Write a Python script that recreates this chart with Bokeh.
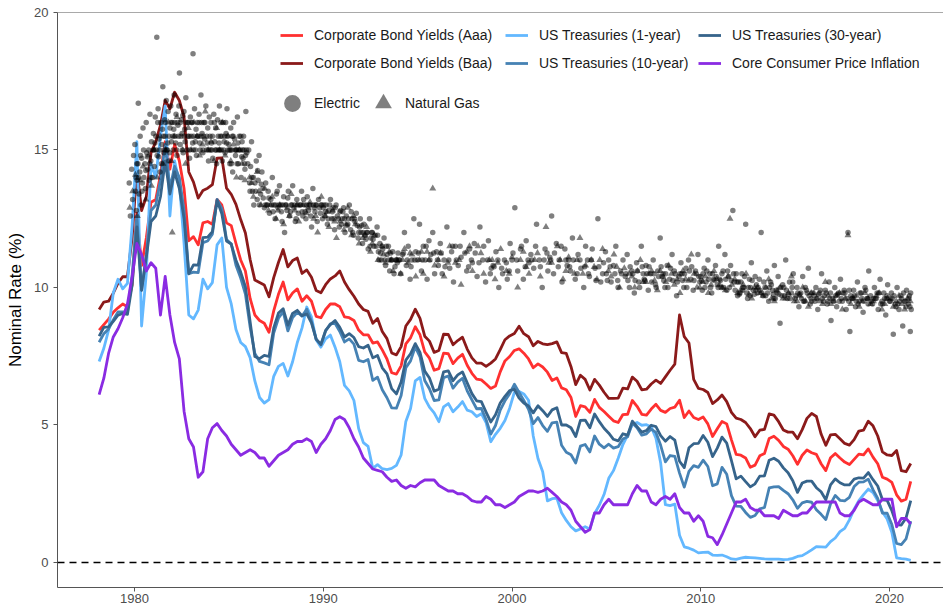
from bokeh.plotting import figure
from bokeh.models import Range1d, Span, Legend, LegendItem, FixedTicker, ColumnDataSource
from bokeh.embed import file_html
from bokeh.resources import INLINE

# ---------------- data (quarterly, 1978Q1 .. 2021Q1) ----------------
aaa = [8.45, 8.65, 8.85, 9.10,  9.26, 9.40, 9.30, 10.10,  12.70, 10.80, 11.80, 13.10,
       13.20, 14.10, 15.30, 14.30,  15.20, 14.60, 13.60, 11.70,  11.85, 11.55, 12.35, 12.40,
       12.30, 13.20, 13.00, 12.35,  12.25, 11.60, 11.00, 10.60,  9.60, 9.00, 8.80, 8.70,
       8.37, 9.15, 9.75, 10.20,  9.55, 9.80, 9.95, 9.50,  9.70, 9.50, 8.95, 8.90,
       9.20, 9.40, 9.40, 9.30,  8.93, 8.90, 8.80, 8.45,  8.28, 8.28, 7.98, 8.02,
       7.73, 7.40, 6.90, 6.85,  7.15, 7.95, 8.17, 8.57,  8.28, 7.66, 7.43, 6.99,
       7.05, 7.61, 7.59, 7.23,  7.43, 7.57, 7.17, 6.88,  6.67, 6.64, 6.49, 6.33,
       6.42, 6.93, 7.33, 7.49,  7.71, 7.77, 7.61, 7.40,  7.08, 7.22, 7.11, 6.92,
       6.62, 6.71, 6.35, 6.28,  6.00, 5.31, 5.70, 5.66,  5.46, 5.93, 5.64, 5.49,
       5.32, 5.15, 5.09, 5.38,  5.39, 5.89, 5.68, 5.39,  5.36, 5.58, 5.75, 5.53,
       5.46, 5.60, 5.65, 5.90,  5.27, 5.51, 5.27, 5.20,  5.29, 5.04, 4.58, 4.86,
       5.13, 5.04, 4.46, 3.93,  3.90, 3.80, 3.46, 3.54,  3.88, 3.96, 4.51, 4.59,
       4.44, 4.22, 4.12, 3.88,  3.57, 3.90, 4.09, 3.99,  3.93, 3.59, 3.34, 3.81,
       3.96, 3.80, 3.65, 3.56,  3.75, 3.94, 3.91, 4.13,  3.83, 3.59, 3.10, 3.03,
       2.91, 2.46, 2.23, 2.30,  2.95]

baa = [9.20, 9.47, 9.50, 9.79,  10.16, 10.39, 10.39, 11.82,  14.30, 12.80, 13.30, 14.90,
       15.30, 15.90, 16.80, 16.50,  17.10, 16.80, 16.20, 14.20,  13.83, 13.25, 13.53, 13.61,
       13.74, 14.70, 14.71, 13.61,  13.39, 13.02, 12.47, 11.98,  11.02, 10.27, 10.18, 10.09,
       9.66, 10.36, 10.91, 11.38,  10.75, 10.98, 11.07, 10.51,  10.64, 10.37, 9.89, 9.81,
       10.10, 10.31, 10.42, 10.60,  10.20, 9.92, 9.68, 9.40,  9.20, 9.13, 8.70, 8.87,
       8.40, 8.14, 7.62, 7.55,  7.85, 8.60, 8.84, 9.21,  8.88, 8.23, 8.05, 7.64,
       7.71, 8.30, 8.29, 7.92,  8.07, 8.19, 7.76, 7.44,  7.25, 7.25, 7.13, 7.25,
       7.40, 7.74, 8.10, 8.24,  8.33, 8.59, 8.32, 8.21,  7.88, 8.04, 7.95, 7.92,
       7.96, 8.02, 7.63, 7.60,  7.12, 6.47, 6.81, 6.66,  6.27, 6.66, 6.45, 6.19,
       5.97, 5.97, 5.98, 6.34,  6.31, 6.74, 6.59, 6.28,  6.30, 6.49, 6.63, 6.51,
       6.75, 6.99, 7.21, 9.00,  8.21, 7.98, 6.66, 6.33,  6.29, 6.18, 5.78, 5.91,
       6.09, 5.85, 5.46, 5.25,  5.20, 5.09, 4.87, 4.57,  4.81, 4.84, 5.40, 5.36,
       5.12, 4.82, 4.74, 4.74,  4.50, 4.83, 5.24, 5.42,  5.31, 4.67, 4.26, 4.64,
       4.66, 4.50, 4.33, 4.27,  4.47, 4.78, 4.81, 5.14,  4.97, 4.60, 4.02, 3.91,
       3.89, 4.07, 3.34, 3.30,  3.60]

ust1 = [7.31, 7.79, 8.45, 9.80,  10.30, 9.95, 10.15, 12.27,  15.30, 8.60, 10.50, 14.50,
        14.00, 15.50, 16.60, 12.60,  14.60, 13.80, 11.60, 9.00,  8.86, 9.18, 10.30, 9.95,
        10.18, 11.55, 11.80, 10.00,  9.40, 8.47, 8.00, 7.85,  7.45, 6.60, 6.00, 5.80,
        5.92, 6.77, 7.13, 7.24,  6.78, 7.30, 8.00, 8.53,  9.29, 8.93, 8.10, 7.83,
        8.13, 8.27, 7.83, 7.30,  6.44, 6.24, 5.89, 4.87,  4.36, 4.22, 3.42, 3.56,
        3.41, 3.38, 3.42, 3.53,  3.91, 5.13, 5.60, 6.60,  6.73, 5.97, 5.65, 5.44,
        5.12, 5.66, 5.78, 5.48,  5.65, 5.85, 5.54, 5.48,  5.31, 5.41, 5.09, 4.39,
        4.66, 4.88, 5.16, 5.61,  6.19, 6.22, 6.13, 5.90,  4.60, 3.78, 3.30, 2.24,
        2.32, 2.34, 1.81, 1.53,  1.30, 1.15, 1.22, 1.30,  1.22, 1.78, 2.08, 2.47,
        3.06, 3.34, 3.79, 4.29,  4.63, 5.02, 5.09, 4.99,  5.01, 4.93, 4.52, 3.62,
        2.10, 2.07, 2.12, 0.99,  0.57, 0.52, 0.45, 0.35,  0.37, 0.38, 0.27, 0.26,
        0.27, 0.21, 0.13, 0.11,  0.16, 0.19, 0.18, 0.17,  0.15, 0.13, 0.12, 0.12,
        0.12, 0.10, 0.11, 0.15,  0.22, 0.25, 0.35, 0.46,  0.58, 0.57, 0.56, 0.76,
        0.89, 1.12, 1.24, 1.55,  1.94, 2.25, 2.47, 2.67,  2.54, 2.25, 1.84, 1.58,
        1.09, 0.17, 0.14, 0.12,  0.08]

ust10 = [8.01, 8.32, 8.49, 8.82,  9.11, 9.11, 9.10, 10.45,  12.60, 9.90, 11.20, 12.80,
         13.00, 13.90, 15.20, 13.60,  14.40, 14.00, 12.80, 10.50,  10.56, 10.54, 11.63, 11.69,
         11.94, 13.20, 12.87, 11.74,  11.58, 10.81, 10.34, 9.76,  8.56, 7.60, 7.31, 7.26,
         7.19, 8.34, 8.88, 9.12,  8.42, 8.91, 9.10, 8.96,  9.21, 8.77, 8.11, 7.91,
         8.42, 8.68, 8.70, 8.40,  8.02, 8.13, 7.94, 7.35,  7.30, 7.38, 6.62, 6.74,
         6.28, 5.99, 5.62, 5.61,  6.07, 7.08, 7.33, 7.84,  7.48, 6.62, 6.32, 5.89,
         5.91, 6.72, 6.78, 6.34,  6.56, 6.70, 6.24, 5.91,  5.59, 5.60, 5.20, 4.67,
         4.98, 5.54, 5.88, 6.14,  6.48, 6.18, 5.89, 5.57,  5.05, 5.27, 4.98, 4.77,
         5.08, 5.10, 4.26, 4.01,  3.92, 3.62, 4.23, 4.29,  4.02, 4.60, 4.30, 4.17,
         4.30, 4.16, 4.21, 4.49,  4.57, 5.07, 4.90, 4.63,  4.68, 4.85, 4.73, 4.26,
         3.66, 3.89, 3.86, 3.25,  2.74, 3.31, 3.52, 3.46,  3.72, 3.49, 2.79, 2.86,
         3.46, 3.21, 2.43, 2.05,  2.04, 1.82, 1.64, 1.71,  1.95, 2.00, 2.71, 2.75,
         2.76, 2.62, 2.50, 2.28,  1.97, 2.17, 2.22, 2.19,  1.92, 1.75, 1.56, 2.13,
         2.44, 2.26, 2.24, 2.37,  2.76, 2.92, 2.93, 3.03,  2.65, 2.33, 1.80, 1.79,
         1.38, 0.69, 0.65, 0.86,  1.50]

ust30 = [8.23, 8.55, 8.57, 8.77,  8.99, 9.06, 9.02, 10.09,  12.20, 9.90, 11.10, 12.40,
         12.60, 13.30, 14.60, 13.40,  14.20, 13.60, 12.50, 10.50,  10.82, 10.81, 11.81, 11.83,
         12.03, 13.17, 12.68, 11.69,  11.58, 10.99, 10.56, 10.03,  8.76, 7.49, 7.41, 7.53,
         7.49, 8.53, 9.07, 9.23,  8.63, 9.06, 9.17, 8.97,  9.04, 8.71, 8.12, 7.93,
         8.44, 8.65, 8.80, 8.55,  8.20, 8.32, 8.18, 7.85,  7.80, 7.90, 7.44, 7.53,
         7.08, 6.86, 6.32, 6.13,  6.56, 7.36, 7.59, 7.96,  7.64, 6.96, 6.71, 6.23,
         6.30, 6.93, 6.97, 6.61,  6.82, 6.93, 6.53, 6.14,  5.88, 5.85, 5.47, 5.11,
         5.37, 5.80, 6.04, 6.25,  6.30, 5.98, 5.80, 5.69,  5.44, 5.70, 5.52, 5.31,
         5.55, 5.63, 5.00, 5.00,  4.90, 4.58, 5.17, 5.18,  4.90, 5.40, 5.12, 4.88,
         4.70, 4.48, 4.42, 4.68,  4.63, 5.14, 4.94, 4.74,  4.80, 4.99, 4.94, 4.61,
         4.41, 4.58, 4.45, 3.68,  3.45, 4.17, 4.32, 4.33,  4.62, 4.37, 3.85, 4.16,
         4.56, 4.34, 3.70, 3.04,  3.14, 2.94, 2.75, 2.86,  3.14, 3.15, 3.72, 3.79,
         3.68, 3.44, 3.26, 2.97,  2.55, 2.89, 2.96, 2.96,  2.72, 2.57, 2.28, 2.82,
         3.04, 2.90, 2.82, 2.82,  3.03, 3.08, 3.07, 3.27,  3.01, 2.78, 2.28, 2.26,
         1.88, 1.38, 1.36, 1.62,  2.25]

core_cpi = [6.1, 6.7, 7.6, 8.2,  8.5, 8.9, 9.4, 10.4,  11.6, 11.2, 10.6, 10.9,
            10.7, 9.0, 10.4, 9.0,  8.0, 7.4, 5.5, 4.5,  4.2, 3.1, 3.3, 4.5,
            4.9, 5.05, 4.8, 4.6,  4.3, 4.1, 3.9, 4.0,  4.1, 4.0, 3.8, 3.8,
            3.5, 3.7, 3.9, 4.0,  4.1, 4.3, 4.4, 4.4,  4.5, 4.4, 4.0, 4.3,
            4.5, 4.8, 5.2, 5.3,  5.2, 4.9, 4.5, 4.2,  3.8, 3.6, 3.4, 3.35,
            3.3, 3.1, 2.95, 3.0,  2.8, 2.7, 2.8, 2.75,  2.9, 3.0, 3.0, 3.0,
            2.8, 2.7, 2.6, 2.6,  2.5, 2.5, 2.4, 2.25,  2.2, 2.2, 2.4, 2.3,
            2.1, 2.1, 2.0, 2.1,  2.2, 2.4, 2.5, 2.6,  2.6, 2.55, 2.6, 2.7,
            2.55, 2.4, 2.2, 2.1,  1.9, 1.5, 1.3, 1.1,  1.2, 1.8, 1.8, 2.1,
            2.3, 2.1, 2.1, 2.1,  2.1, 2.5, 2.8, 2.6,  2.6, 2.2, 2.1, 2.3,
            2.4, 2.3, 2.5, 2.0,  1.8, 1.8, 1.5, 1.7,  1.5, 0.95, 0.9, 0.65,
            1.0, 1.4, 1.8, 2.2,  2.2, 2.3, 2.0, 1.9,  1.9, 1.7, 1.7, 1.7,
            1.6, 1.9, 1.8, 1.7,  1.7, 1.8, 1.8, 2.0,  2.2, 2.2, 2.2, 2.2,
            2.2, 1.8, 1.7, 1.7,  1.9, 2.2, 2.3, 2.2,  2.1, 2.1, 2.3, 2.3,
            2.3, 1.3, 1.6, 1.6,  1.4]

quarters = [1978.125 + 0.25 * i for i in range(len(aaa))]

# authorized returns on equity (date, %)
elec_1980s = [(1979.72,13.8),(1979.78,12.6),(1979.85,14.3),(1979.9,13.2),(1979.95,14.8),
    (1980.02,15.2),(1980.05,13.5),(1980.08,14.0),(1980.1,12.8),(1980.14,13.9),(1980.18,14.5),(1980.2,16.7),
    (1980.24,13.4),(1980.28,14.2),(1980.3,15.5),(1980.35,13.0),(1980.38,14.7),(1980.42,13.8),(1980.45,15.8),
    (1980.5,14.0),(1980.55,14.5),(1980.58,13.6),(1980.62,16.0),(1980.65,14.9),(1980.7,14.3),(1980.75,15.0),
    (1980.78,13.9),(1980.82,16.3),(1980.86,14.6),(1980.9,15.3),(1980.95,14.0),
    (1981.0,15.6),(1981.05,14.4),(1981.1,16.2),(1981.15,15.0),(1981.18,19.1),(1981.2,14.8),(1981.25,16.5),
    (1981.3,15.4),(1981.35,14.2),(1981.4,16.0),(1981.45,15.2),(1981.5,17.3),(1981.55,14.9),(1981.6,16.1),
    (1981.62,15.5),(1981.68,16.8),(1981.72,15.0),(1981.78,16.4),(1981.82,14.6),(1981.88,15.8),(1981.92,16.6),(1981.96,15.3),
    (1982.0,16.0),(1982.05,15.0),(1982.1,17.0),(1982.15,15.5),(1982.2,16.3),(1982.25,14.8),(1982.3,15.9),
    (1982.35,16.6),(1982.38,17.8),(1982.42,15.2),(1982.48,16.1),(1982.52,15.6),(1982.58,14.9),(1982.62,16.4),
    (1982.68,15.3),(1982.72,16.9),(1982.78,15.0),(1982.82,16.0),(1982.88,15.5),(1982.92,14.7),(1982.96,16.2),
    (1983.0,15.5),(1983.05,16.0),(1983.1,18.5),(1983.12,15.0),(1983.18,16.5),(1983.22,15.3),(1983.28,14.8),
    (1983.32,16.0),(1983.38,15.5),(1983.42,16.3),(1983.48,15.0),(1983.52,17.0),(1983.58,15.6),(1983.62,14.9),
    (1983.68,16.0),(1983.72,15.4),(1983.78,16.6),(1983.82,15.0),(1983.88,15.8),(1983.92,14.6),(1983.96,16.2),
    (1984.0,15.5),(1984.05,16.0),(1984.1,15.0),(1984.15,14.7),(1984.2,16.3),(1984.25,15.3),(1984.3,15.8),
    (1984.35,14.5),(1984.4,16.1),(1984.45,15.0),(1984.5,16.6),(1984.55,15.5),(1984.6,15.0),(1984.65,14.6),
    (1984.7,16.0),(1984.75,15.3),(1984.8,14.9),(1984.85,15.6),(1984.9,16.5),(1984.95,15.0),
    (1985.0,15.2),(1985.05,14.5),(1985.1,15.8),(1985.15,15.0),(1985.2,14.2),(1985.25,16.0),(1985.3,15.4),
    (1985.35,14.8),(1985.4,15.0),(1985.45,16.2),(1985.5,14.5),(1985.55,15.5),(1985.6,15.0),(1985.65,14.0),
    (1985.7,15.3),(1985.75,14.7),(1985.8,15.0),(1985.85,14.3),(1985.9,16.4),(1985.95,14.9),
    (1986.0,14.5),(1986.05,15.0),(1986.1,13.8),(1986.15,14.4),(1986.2,15.3),(1986.25,13.5),(1986.3,14.0),
    (1986.38,13.8),(1986.45,14.6),(1986.5,13.2),(1986.55,13.9),(1986.6,14.8),(1986.68,13.4),(1986.75,14.2),
    (1986.8,13.6),(1986.88,12.9),(1986.95,13.8),
    (1987.0,13.0),(1987.08,13.5),(1987.15,12.7),(1987.22,13.2),(1987.3,14.0),(1987.38,13.0),(1987.45,12.5),
    (1987.52,13.4),(1987.6,12.9),(1987.68,13.7),(1987.75,13.0),(1987.82,12.4),(1987.9,13.3),(1987.95,12.0),
    (1988.0,13.0),(1988.08,12.8),(1988.15,13.5),(1988.22,12.6),(1988.3,13.0),(1988.38,13.7),(1988.45,12.9),
    (1988.52,12.4),(1988.6,13.2),(1988.68,12.7),(1988.75,13.0),(1988.85,13.5),(1988.92,12.6),
    (1989.0,13.0),(1989.08,12.5),(1989.15,13.3),(1989.22,12.8),(1989.3,13.0),(1989.38,12.2),(1989.45,13.6),
    (1989.52,12.9),(1989.6,13.0),(1989.68,12.4),(1989.75,13.2),(1989.85,12.7),(1989.92,13.0)]

elec_1980s_bands = [(1980.12,14.5),(1980.22,14.0),(1980.32,14.8),(1980.4,13.5),(1980.48,15.0),(1980.6,14.25),
    (1980.68,14.75),(1980.8,14.5),(1980.88,14.0),(1980.98,15.0),(1981.08,15.25),(1981.28,14.75),(1981.48,15.75),
    (1981.58,15.0),(1981.76,15.25),(1981.86,14.9),(1982.08,15.75),(1982.18,15.25),(1982.28,16.0),(1982.46,15.5),
    (1982.56,16.25),(1982.66,15.75),(1982.86,16.0),(1983.08,15.25),(1983.26,15.75),(1983.46,15.25),(1983.56,16.0),
    (1983.66,15.5),(1983.86,15.25),(1984.08,15.25),(1984.28,15.0),(1984.48,15.25),(1984.58,16.0),(1984.78,15.5),
    (1984.88,15.25),(1985.08,15.0),(1985.18,15.5),(1985.38,15.0),(1985.48,15.25),(1985.68,14.75),(1985.78,15.5),
    (1985.88,14.8),
    (1981.03,15.0),(1981.13,15.5),(1981.23,16.0),(1981.33,15.0),(1981.43,14.5),(1981.53,15.5),(1981.63,16.0),
    (1981.73,15.0),(1981.83,15.5),(1981.93,16.0),(1982.03,15.5),(1982.13,16.0),(1982.23,15.0),(1982.33,15.5),
    (1982.43,16.0),(1982.53,15.0),(1982.63,15.5),(1982.73,16.0),(1982.83,15.5),(1982.93,15.0),(1983.03,16.0),
    (1983.13,15.5),(1983.23,15.0),(1983.33,15.5),(1983.43,16.0),(1983.53,15.5),(1983.63,15.0),(1983.73,16.0),
    (1983.83,15.5),(1983.93,15.0),(1984.03,15.0),(1984.13,15.5),(1984.23,16.0),(1984.33,15.0),(1984.43,15.5),
    (1984.53,15.0),(1984.63,15.5),(1984.73,15.0),(1984.83,16.0),(1984.93,15.5),(1985.03,15.0),(1985.13,14.5),
    (1985.23,15.5),(1985.33,15.0),(1985.43,14.5),(1985.53,15.0),(1985.63,15.5),(1985.73,15.0),(1985.83,14.5),(1985.93,15.0),
    (1986.12,13.5),(1986.22,14.0),(1986.32,13.0),(1986.42,13.5),(1986.52,14.25),(1986.62,13.0),(1986.72,13.75),
    (1986.82,13.25),(1986.92,13.0),(1987.04,13.0),(1987.12,13.25),(1987.26,13.0),(1987.34,12.75),(1987.48,13.0),
    (1987.56,13.5),(1987.64,13.0),(1987.78,12.75),(1987.86,13.0),(1988.04,13.0),(1988.12,13.25),(1988.26,12.75),
    (1988.34,13.0),(1988.48,13.0),(1988.56,12.5),(1988.64,13.0),(1988.8,13.0),(1988.88,12.75),(1988.96,13.2),
    (1989.04,12.75),(1989.12,13.0),(1989.26,13.0),(1989.34,12.6),(1989.48,13.0),(1989.56,12.75),(1989.64,13.0),
    (1989.8,12.9),(1989.88,13.0),(1989.96,12.5)]

elec_1990s = [(1990.0,12.9),(1990.08,12.6),(1990.15,13.0),(1990.22,12.3),(1990.3,12.8),(1990.38,13.2),(1990.45,12.5),
    (1990.52,12.9),(1990.6,12.1),(1990.68,13.0),(1990.75,12.6),(1990.85,12.2),(1990.92,12.8),
    (1991.0,12.5),(1991.08,12.9),(1991.15,12.0),(1991.22,12.6),(1991.3,12.3),(1991.38,13.0),(1991.45,12.1),
    (1991.52,12.5),(1991.6,11.9),(1991.68,12.4),(1991.75,12.7),(1991.85,11.8),(1991.92,12.2),
    (1992.0,12.0),(1992.08,11.6),(1992.15,12.3),(1992.22,11.9),(1992.3,12.0),(1992.38,11.4),(1992.45,12.5),
    (1992.52,11.8),(1992.6,12.0),(1992.68,11.5),(1992.75,11.9),(1992.85,12.2),(1992.92,11.3),
    (1993.0,11.6),(1993.08,11.0),(1993.15,11.4),(1993.22,11.8),(1993.3,10.8),(1993.38,11.2),(1993.45,11.5),
    (1993.52,10.6),(1993.6,11.0),(1993.68,11.3),(1993.75,10.5),(1993.85,11.0),(1993.92,10.9),
    (1994.0,11.0),(1994.1,10.5),(1994.2,11.2),(1994.3,12.0),(1994.4,10.8),(1994.5,11.5),(1994.6,10.3),
    (1994.7,11.0),(1994.8,12.5),(1994.9,11.3),
    (1995.0,11.0),(1995.1,12.3),(1995.2,10.6),(1995.3,11.5),(1995.4,11.0),(1995.5,10.3),(1995.6,11.7),
    (1995.7,11.2),(1995.8,12.0),(1995.9,10.5),
    (1996.0,11.3),(1996.1,10.8),(1996.2,11.6),(1996.3,10.5),(1996.4,11.0),(1996.55,12.2),(1996.7,10.7),
    (1996.8,11.3),(1996.9,10.2),
    (1997.0,11.5),(1997.15,10.8),(1997.3,11.1),(1997.45,12.0),(1997.6,10.6),(1997.75,11.4),(1997.9,10.9),
    (1998.0,11.6),(1998.15,10.4),(1998.3,12.2),(1998.45,11.0),(1998.6,10.2),(1998.75,11.7),(1998.9,10.7),
    (1999.0,10.8),(1999.15,11.3),(1999.3,10.0),(1999.45,10.7),(1999.6,11.0),(1999.75,10.3),(1999.9,11.6)]

elec_1990s_bands = [(1990.04,13.0),(1990.12,12.75),(1990.26,12.5),(1990.34,13.0),(1990.48,12.75),(1990.56,12.5),
    (1990.64,12.9),(1990.8,12.5),(1990.88,12.75),(1990.96,12.3),(1991.04,12.75),(1991.12,12.5),(1991.26,12.25),
    (1991.34,12.5),(1991.48,12.75),(1991.56,12.0),(1991.64,12.5),(1991.8,12.25),(1991.88,12.0),(1991.96,12.5),
    (1992.04,12.25),(1992.12,12.0),(1992.26,11.75),(1992.34,12.0),(1992.48,11.5),(1992.56,12.0),(1992.64,11.75),
    (1992.8,11.5),(1992.88,11.9),(1992.96,11.0),(1993.04,11.25),(1993.12,11.5),(1993.26,11.0),(1993.34,11.5),
    (1993.48,11.0),(1993.56,11.25),(1993.64,11.0),(1993.8,10.75),(1993.88,11.0),(1993.96,11.25),
    (1994.05,11.0),(1994.25,11.25),(1994.45,11.0),(1994.65,10.75),(1994.85,11.0),(1995.05,11.25),(1995.25,11.0),
    (1995.45,11.5),(1995.65,11.0),(1995.85,11.25),(1996.05,11.0),(1996.25,11.25),(1996.45,10.75),(1996.65,11.0),
    (1996.85,11.5),(1997.05,11.0),(1997.25,11.5),(1997.5,11.25),(1997.7,10.75),(1997.85,11.0),(1998.05,11.25),
    (1998.25,10.9),(1998.5,11.5),(1998.7,11.0),(1998.85,10.5),(1999.05,10.75),(1999.25,11.0),(1999.5,10.5),
    (1999.7,10.9),(1999.85,10.6)]

elec_2000s = [(2000.0,11.0),(2000.15,12.9),(2000.3,10.6),(2000.45,11.4),(2000.6,10.3),(2000.75,11.7),(2000.9,10.9),
    (2001.0,11.2),(2001.15,10.7),(2001.3,12.3),(2001.45,11.0),(2001.6,10.0),(2001.75,11.4),(2001.9,10.6),
    (2002.0,11.1),(2002.1,12.6),(2002.2,10.5),(2002.35,11.6),(2002.5,11.0),(2002.65,10.2),(2002.8,11.4),(2002.92,10.8),
    (2003.0,11.0),(2003.1,10.6),(2003.2,11.8),(2003.35,10.3),(2003.5,11.2),(2003.65,10.7),(2003.8,10.0),(2003.9,11.5),
    (2004.0,11.0),(2004.1,10.4),(2004.25,11.4),(2004.4,10.7),(2004.55,12.5),(2004.7,10.2),(2004.85,10.9),(2004.95,11.3),
    (2005.0,10.5),(2005.12,11.0),(2005.25,10.2),(2005.38,10.8),(2005.5,11.5),(2005.62,10.0),(2005.75,10.6),(2005.88,11.0),
    (2006.0,10.4),(2006.1,11.2),(2006.22,10.0),(2006.35,10.6),(2006.48,9.8),(2006.6,10.9),(2006.72,10.2),
    (2006.85,11.5),(2006.95,10.5),
    (2007.0,10.3),(2007.1,10.8),(2007.22,9.9),(2007.35,10.5),(2007.48,11.0),(2007.6,10.1),(2007.72,10.6),
    (2007.85,11.8),(2007.95,10.4),
    (2008.0,10.5),(2008.1,10.0),(2008.22,10.8),(2008.35,10.3),(2008.48,11.2),(2008.6,10.6),(2008.72,9.7),
    (2008.85,10.4),(2008.95,10.9),
    (2009.0,10.5),(2009.1,10.0),(2009.22,10.7),(2009.35,11.0),(2009.48,10.3),(2009.6,9.9),(2009.72,10.6),
    (2009.85,11.2),(2009.95,10.2)]

elec_2000s_bands = [(2000.05,11.25),(2000.25,11.0),(2000.5,11.5),(2000.7,10.75),(2000.85,11.0),(2001.05,11.0),
    (2001.25,11.5),(2001.5,10.75),(2001.7,11.0),(2001.85,11.25),(2002.05,11.0),(2002.25,11.25),(2002.45,10.75),
    (2002.6,11.5),(2002.85,11.0),(2003.05,10.75),(2003.25,11.0),(2003.45,10.5),(2003.6,11.0),(2003.85,10.75),
    (2004.05,10.5),(2004.2,11.0),(2004.45,10.25),(2004.6,10.75),(2004.8,10.5),(2005.05,10.25),(2005.2,10.75),
    (2005.45,10.5),(2005.6,10.25),(2005.8,10.5),
    (2006.04,10.5),(2006.14,10.25),(2006.26,10.75),(2006.4,10.5),(2006.52,10.25),(2006.64,10.6),(2006.76,10.0),
    (2006.9,10.75),(2007.04,10.25),(2007.14,10.5),(2007.26,10.75),(2007.4,10.2),(2007.52,10.5),(2007.64,10.0),
    (2007.76,10.4),(2007.9,10.75),(2008.04,10.25),(2008.14,10.5),(2008.26,10.0),(2008.4,10.7),(2008.52,10.25),
    (2008.64,10.5),(2008.76,10.2),(2008.9,10.5),(2009.04,10.25),(2009.14,10.5),(2009.26,10.0),(2009.4,10.6),
    (2009.52,10.75),(2009.64,10.25),(2009.76,10.5),(2009.9,10.4)]

elec_2010s = [(2010.0,10.4),(2010.08,9.9),(2010.18,10.7),(2010.28,10.2),(2010.38,11.0),(2010.48,10.5),(2010.58,9.8),
    (2010.68,10.3),(2010.78,10.8),(2010.88,10.1),(2010.95,11.5),
    (2011.0,10.3),(2011.08,10.0),(2011.18,10.6),(2011.28,11.2),(2011.38,9.9),(2011.48,10.4),(2011.58,10.8),
    (2011.7,12.8),(2011.78,10.2),(2011.88,10.5),(2011.95,9.7),
    (2012.0,10.2),(2012.08,9.8),(2012.18,10.5),(2012.28,10.0),(2012.38,12.3),(2012.48,9.6),(2012.58,10.3),
    (2012.68,10.9),(2012.78,9.9),(2012.88,10.4),(2012.95,10.1),
    (2013.0,9.8),(2013.1,10.3),(2013.2,12.0),(2013.3,9.7),(2013.4,10.0),(2013.5,10.6),(2013.6,9.5),
    (2013.7,10.2),(2013.8,9.9),(2013.9,10.8),(2013.95,9.6),
    (2014.0,9.9),(2014.1,10.4),(2014.2,8.7),(2014.3,9.7),(2014.4,10.0),(2014.5,11.0),(2014.6,9.6),
    (2014.7,10.2),(2014.8,9.8),(2014.9,10.5),
    (2015.0,9.6),(2015.1,10.0),(2015.2,9.3),(2015.3,9.8),(2015.4,10.4),(2015.5,9.5),(2015.6,9.9),
    (2015.7,10.7),(2015.8,9.4),(2015.9,9.8),
    (2016.0,9.7),(2016.1,10.0),(2016.2,9.2),(2016.3,9.8),(2016.4,10.5),(2016.5,9.5),(2016.6,9.9),
    (2016.7,9.4),(2016.8,10.2),(2016.9,8.8),
    (2017.0,9.6),(2017.1,10.0),(2017.2,9.3),(2017.3,9.8),(2017.4,10.3),(2017.5,9.5),(2017.6,9.9),
    (2017.7,9.2),(2017.8,12.0),(2017.9,8.4),(2017.95,9.7),
    (2018.0,9.6),(2018.1,9.9),(2018.2,9.3),(2018.3,10.2),(2018.4,9.5),(2018.5,9.8),(2018.6,9.1),
    (2018.7,10.0),(2018.8,9.6),(2018.9,10.6),
    (2019.0,9.7),(2019.1,9.4),(2019.2,10.0),(2019.3,9.6),(2019.4,9.2),(2019.5,10.3),(2019.6,9.5),
    (2019.7,9.8),(2019.8,9.0),(2019.9,10.1),
    (2020.0,9.5),(2020.1,9.8),(2020.2,8.3),(2020.3,9.4),(2020.4,10.0),(2020.5,9.2),(2020.6,9.7),
    (2020.7,8.6),(2020.8,9.5),(2020.9,9.9),
    (2021.0,9.4),(2021.05,9.7),(2021.1,8.4),(2021.15,9.2)]

elec_2010s_bands = [(2010.04,10.25),(2010.12,10.5),(2010.22,10.0),(2010.32,10.6),(2010.42,10.3),(2010.52,10.0),
    (2010.62,10.5),(2010.72,10.25),(2010.82,10.4),(2010.92,10.0),(2011.04,10.25),(2011.12,10.5),(2011.22,10.0),
    (2011.32,10.3),(2011.42,10.6),(2011.52,10.0),(2011.62,10.25),(2011.74,10.5),(2011.82,9.9),(2011.92,10.2),
    (2012.04,9.75),(2012.12,10.2),(2012.22,9.9),(2012.24,10.0),(2012.32,10.4),(2012.44,9.8),(2012.52,10.0),
    (2012.62,9.7),(2012.64,10.0),(2012.72,10.25),(2012.84,9.75),(2012.92,9.9),(2013.04,10.0),(2013.14,9.9),
    (2013.24,9.8),(2013.34,10.2),(2013.44,9.7),(2013.54,9.8),(2013.64,10.0),(2013.74,10.1),(2013.84,9.75),
    (2013.87,9.6),(2014.04,9.8),(2014.14,9.75),(2014.24,10.0),(2014.34,10.1),(2014.44,9.7),(2014.54,9.9),
    (2014.64,9.75),(2014.74,9.6),(2014.84,10.0),(2014.87,10.2),(2015.04,9.7),(2015.14,9.8),(2015.24,9.75),
    (2015.34,9.6),(2015.44,9.5),(2015.54,10.0),(2015.64,9.8),(2015.74,9.7),(2015.84,9.6),(2015.87,9.5),
    (2016.04,9.5),(2016.14,9.6),(2016.24,9.75),(2016.34,9.9),(2016.44,9.6),(2016.54,9.7),(2016.64,9.8),
    (2016.74,9.5),(2016.84,9.6),(2016.87,9.8),(2017.04,9.5),(2017.14,9.7),(2017.24,9.75),(2017.34,9.5),
    (2017.44,9.6),(2017.54,9.8),(2017.64,9.8),(2017.74,9.6),(2017.84,9.5),(2017.87,9.9),(2018.04,9.6),
    (2018.14,9.7),(2018.24,9.5),(2018.34,9.4),(2018.44,9.8),(2018.54,9.6),(2018.64,9.5),(2018.74,9.9),
    (2018.84,9.6),(2018.87,9.4),(2019.04,9.5),(2019.14,9.6),(2019.24,9.6),(2019.34,9.8),(2019.44,9.8),
    (2019.54,9.4),(2019.64,9.4),(2019.74,9.6),(2019.84,9.6),(2019.87,9.7),(2020.04,9.5),(2020.14,9.6),
    (2020.24,9.7),(2020.34,9.3),(2020.44,9.4),(2020.54,9.5),(2020.64,9.6),(2020.74,9.8),(2020.84,9.5),
    (2020.87,9.3),(2021.03,9.6),(2021.08,9.3),(2021.12,9.8)]

gas_1980s = [(1979.75,12.9),(1979.9,13.5),(1980.05,14.1),(1980.15,12.6),(1980.3,13.9),(1980.45,14.4),(1980.6,13.2),
    (1980.75,14.8),(1980.9,13.7),(1981.05,15.0),(1981.2,14.0),(1981.35,15.5),(1981.5,14.5),(1981.65,15.0),
    (1981.8,16.0),(1981.95,14.6),(1982.0,12.0),(1982.1,15.5),(1982.25,16.2),(1982.55,15.0),(1982.7,14.5),
    (1982.85,15.8),(1983.0,15.0),(1983.15,16.0),(1983.3,15.5),(1983.45,14.8),(1983.6,15.2),(1983.75,16.4),
    (1983.9,15.0),(1984.05,15.3),(1984.2,14.6),(1984.35,15.8),(1984.5,15.0),(1984.65,16.0),(1984.8,14.8),
    (1984.95,15.5),(1985.1,14.6),(1985.25,15.2),(1985.4,14.0),(1985.55,15.0),(1985.7,14.5),(1985.85,13.9),
    (1986.1,14.0),(1986.3,13.3),(1986.5,14.2),(1986.7,13.0),(1986.9,13.6),(1987.1,12.8),(1987.3,13.3),
    (1987.5,12.5),(1987.7,13.0),(1987.9,12.3),(1988.1,12.9),(1988.3,13.4),(1988.5,12.8),(1988.7,12.4),
    (1988.9,13.0),(1989.1,12.7),(1989.3,13.1),(1989.5,12.5),(1989.7,12.0),(1989.9,13.3),
    (1986.2,13.8),(1986.6,13.5),(1987.2,13.0),(1987.6,12.8),(1988.2,12.6),(1988.6,13.0),(1989.2,12.9),(1989.6,12.6)]

gas_1990s = [(1990.1,12.6),(1990.3,12.2),(1990.5,12.8),(1990.7,11.8),(1990.9,12.4),(1991.1,12.1),(1991.3,12.9),
    (1991.5,11.9),(1991.7,12.3),(1991.9,11.6),(1992.1,11.8),(1992.3,12.2),(1992.5,11.3),(1992.7,11.9),
    (1992.9,11.0),(1993.1,11.5),(1993.3,10.9),(1993.5,11.3),(1993.7,10.6),(1993.9,11.0),(1994.1,10.5),
    (1994.3,11.4),(1994.5,10.9),(1994.7,11.2),(1994.9,10.4),(1995.1,11.0),(1995.3,10.5),(1995.5,11.3),
    (1995.8,13.6),(1995.9,10.8),(1996.1,11.0),(1996.4,10.4),(1996.7,11.5),(1997.0,10.9),(1997.3,10.1),
    (1997.6,11.3),(1997.9,10.6),(1998.2,11.5),(1998.5,10.5),(1998.8,11.0),(1999.1,10.3),(1999.4,11.4),
    (1999.7,10.6),
    (1990.2,12.75),(1990.6,12.4),(1991.2,12.3),(1991.6,12.6),(1992.2,11.9),(1992.6,11.6),(1993.2,11.2),
    (1993.6,11.0),(1994.2,11.0),(1994.6,11.25),(1995.2,11.3),(1995.6,11.0),(1996.2,11.25),(1996.6,10.9),
    (1997.2,11.0),(1997.75,11.5),(1998.35,11.25),(1998.95,11.0),(1999.25,10.9),(1999.85,10.5)]

gas_2000s = [(2000.0,11.1),(2000.3,10.0),(2000.6,11.3),(2000.9,10.5),(2001.2,11.0),(2001.5,10.4),(2001.8,12.2),
    (2002.1,10.9),(2002.4,11.5),(2002.7,10.3),(2003.0,11.1),(2003.3,10.5),(2003.6,11.8),(2003.9,10.8),
    (2004.2,11.0),(2004.5,10.3),(2004.8,11.4),(2005.1,10.6),(2005.4,11.2),(2005.7,10.0),(2005.95,10.7),
    (2006.2,10.5),(2006.5,10.0),(2006.8,11.0),(2007.1,10.2),(2007.4,10.6),(2007.7,9.9),(2008.0,10.4),
    (2008.3,10.8),(2008.6,10.1),(2008.9,9.8),(2009.2,10.3),(2009.5,11.2),(2009.8,10.0),
    (2000.45,11.0),(2000.75,10.75),(2001.35,11.25),(2001.95,10.9),(2002.55,11.0),(2002.85,10.6),(2003.45,11.0),
    (2003.75,10.5),(2004.35,10.75),(2004.65,11.0),(2005.25,10.4),(2005.55,10.75),(2006.35,10.4),(2006.65,10.6),
    (2006.95,10.2),(2007.25,10.5),(2007.55,10.25),(2007.85,10.6),(2008.15,10.2),(2008.45,10.5),(2008.75,10.3),
    (2009.05,10.6),(2009.35,10.25),(2009.65,10.5),(2009.95,10.0)]

gas_2010s = [(2010.1,10.2),(2010.4,9.8),(2010.7,10.6),(2011.0,10.1),(2011.3,9.9),(2011.55,12.5),(2011.8,10.3),
    (2012.1,9.9),(2012.4,10.5),(2012.7,9.6),(2013.0,10.0),(2013.3,9.7),(2013.6,10.3),(2013.9,9.5),
    (2014.2,10.0),(2014.5,9.6),(2014.8,10.4),(2015.1,9.5),(2015.4,10.0),(2015.7,9.3),(2016.0,9.8),
    (2016.3,9.5),(2016.6,10.2),(2016.9,9.4),(2017.2,9.7),(2017.5,9.2),(2017.8,11.9),(2018.1,9.6),
    (2018.4,9.3),(2018.7,9.8),(2019.0,9.4),(2019.3,9.7),(2019.6,9.2),(2019.9,9.6),(2020.2,9.3),
    (2020.5,9.7),(2020.8,9.2),(2021.1,9.5),
    (2010.25,10.4),(2010.55,10.1),(2010.85,10.3),(2011.15,10.0),(2011.45,10.4),(2011.65,10.1),(2011.95,9.8),
    (2012.25,10.1),(2012.55,9.75),(2012.85,10.0),(2013.15,9.8),(2013.45,10.0),(2013.75,9.6),(2014.05,9.9),
    (2014.35,9.6),(2014.65,9.8),(2014.95,9.5),(2015.25,9.7),(2015.55,9.5),(2015.85,9.8),(2016.15,9.6),
    (2016.45,9.4),(2016.75,9.7),(2017.05,9.5),(2017.35,9.8),(2017.65,9.6),(2017.95,9.4),(2018.25,9.7),
    (2018.55,9.5),(2018.85,9.6),(2019.15,9.5),(2019.45,9.8),(2019.75,9.4),(2020.05,9.6),(2020.35,9.5),
    (2020.65,9.4),(2020.95,9.6)]

x_ticks = [1980, 1990, 2000, 2010, 2020]
y_ticks = [0, 5, 10, 15, 20]

# ---------------- figure ----------------
FONT = "Liberation Sans"
p = figure(width=943, height=611, output_backend="svg", toolbar_location=None,
           x_range=Range1d(1975.92, 2022.86), y_range=Range1d(-0.91, 20),
           min_border_left=57, min_border_right=0, min_border_top=12, min_border_bottom=24)
p.outline_line_color = None
p.xgrid.visible = False
p.ygrid.visible = False

for ax in (p.xaxis[0], p.yaxis[0]):
    ax.axis_line_color = "#555555"
    ax.major_tick_line_color = "#555555"
    ax.minor_tick_line_color = None
    ax.major_tick_in = 0
    ax.major_tick_out = 4
    ax.major_label_text_font = FONT
    ax.major_label_text_font_size = "13px"
    ax.major_label_text_color = "#4d4d4d"
p.xaxis[0].ticker = FixedTicker(ticks=x_ticks)
p.yaxis[0].ticker = FixedTicker(ticks=y_ticks)
p.xaxis[0].major_label_standoff = 2
p.yaxis[0].major_label_standoff = 5
p.yaxis[0].axis_label = "Nominal Rate (%)"
p.yaxis[0].axis_label_text_font = FONT
p.yaxis[0].axis_label_text_font_size = "17px"
p.yaxis[0].axis_label_text_font_style = "normal"
p.yaxis[0].axis_label_text_color = "black"
p.yaxis[0].axis_label_standoff = 6

p.add_layout(Span(location=20, dimension="width", line_color="#555555", line_width=1))
p.add_layout(Span(location=0, dimension="width", line_color="black", line_width=1.5, line_dash="7 5"))

src = ColumnDataSource(dict(t=quarters, aaa=aaa, baa=baa, ust1=ust1, ust10=ust10,
                            ust30=ust30, cpi=core_cpi))
LW = 2.8
r_aaa = p.line("t", "aaa", source=src, line_color="#FF3030", line_width=LW, line_join="round")
r_baa = p.line("t", "baa", source=src, line_color="#8B1A1A", line_width=LW, line_join="round")
r_1 = p.line("t", "ust1", source=src, line_color="#63B8FF", line_width=LW, line_join="round")
r_10 = p.line("t", "ust10", source=src, line_color="#4682B4", line_width=LW, line_join="round")
r_30 = p.line("t", "ust30", source=src, line_color="#36648B", line_width=LW, line_join="round")
r_cpi = p.line("t", "cpi", source=src, line_color="#8A2BE2", line_width=LW, line_join="round")

elec = (elec_1980s + elec_1980s_bands + elec_1990s + elec_1990s_bands
        + elec_2000s + elec_2000s_bands + elec_2010s + elec_2010s_bands)
gas = gas_1980s + gas_1990s + gas_2000s + gas_2010s
r_el = p.scatter([d for d, v in elec], [v for d, v in elec], marker="circle", size=5.5,
                 fill_color="black", fill_alpha=0.5, line_color=None)
r_gas = p.scatter([d for d, v in gas], [v for d, v in gas], marker="triangle", size=7,
                  fill_color="black", fill_alpha=0.5, line_color=None)

def make_legend(items, loc, orient="vertical", gw=23, gh=20, standoff=11, spacing=8):
    lg = Legend(items=items, location=loc, orientation=orient, glyph_width=gw, glyph_height=gh,
                label_standoff=standoff, spacing=spacing, padding=0, margin=0,
                label_text_font=FONT, label_text_font_size="14px", label_text_color="#1a1a1a",
                border_line_color=None, background_fill_alpha=0, label_height=20)
    p.add_layout(lg)
    return lg

make_legend([LegendItem(label="Corporate Bond Yields (Aaa)", renderers=[r_aaa]),
             LegendItem(label="Corporate Bond Yields (Baa)", renderers=[r_baa])], (223, 514))
make_legend([LegendItem(label="US Treasuries (1-year)", renderers=[r_1]),
             LegendItem(label="US Treasuries (10-year)", renderers=[r_10])], (448, 514))
make_legend([LegendItem(label="US Treasuries (30-year)", renderers=[r_30]),
             LegendItem(label="Core Consumer Price Inflation", renderers=[r_cpi])], (641, 514))
make_legend([LegendItem(label="Electric", renderers=[r_el]),
             LegendItem(label="Natural Gas", renderers=[r_gas])], (214, 463),
            orient="horizontal", gw=42, gh=42, standoff=1, spacing=2)

open("out.html", "w").write(file_html(p, INLINE))
